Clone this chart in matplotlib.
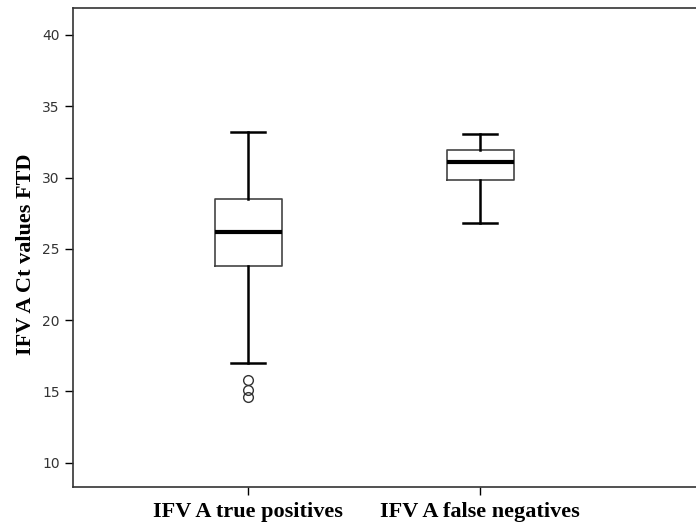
import matplotlib.pyplot as plt

groups = ['IFV A true positives', 'IFV A false negatives']
whislo = [17.0, 26.8]
q1 = [23.8, 29.8]
med = [26.2, 31.1]
q3 = [28.5, 31.9]
whishi = [33.2, 33.05]
fliers = [[15.8, 15.1, 14.6], []]

stats = []
for i in range(len(groups)):
    stats.append(dict(label=groups[i], whislo=whislo[i], q1=q1[i], med=med[i],
                      q3=q3[i], whishi=whishi[i], fliers=fliers[i]))

fig = plt.figure(figsize=(6.96, 5.27), dpi=100)
ax = fig.add_axes([0.105, 0.076, 0.895, 0.909])

ax.bxp(stats, positions=[1, 2], widths=0.29, showfliers=True,
       boxprops=dict(color='#444444', linewidth=1.2),
       whiskerprops=dict(color='black', linewidth=1.8),
       capprops=dict(color='black', linewidth=1.8),
       medianprops=dict(color='black', linewidth=3),
       flierprops=dict(marker='o', markerfacecolor='none', markeredgecolor='#333333',
                       markersize=7, markeredgewidth=1))

ax.set_xlim(0.245, 2.93)
ax.set_ylim(8.3, 41.9)
ax.set_yticks([10, 15, 20, 25, 30, 35, 40])
ax.set_xticks([1, 2])
ax.set_xticklabels(groups, fontfamily='Liberation Serif', fontweight='bold', fontsize=16)
ax.tick_params(axis='y', labelsize=10, labelcolor='#333333', length=6, width=1)
ax.tick_params(axis='x', length=6, width=1, pad=5)
ax.set_ylabel('IFV A Ct values FTD', fontfamily='Liberation Serif', fontweight='bold',
              fontsize=16)
ax.yaxis.set_label_coords(-0.06, 0.486)
ax.spines['right'].set_visible(False)
for s in ['left', 'bottom', 'top']:
    ax.spines[s].set_linewidth(1.2)
    ax.spines[s].set_color('#333333')

fig.savefig('out.png', dpi=100)
